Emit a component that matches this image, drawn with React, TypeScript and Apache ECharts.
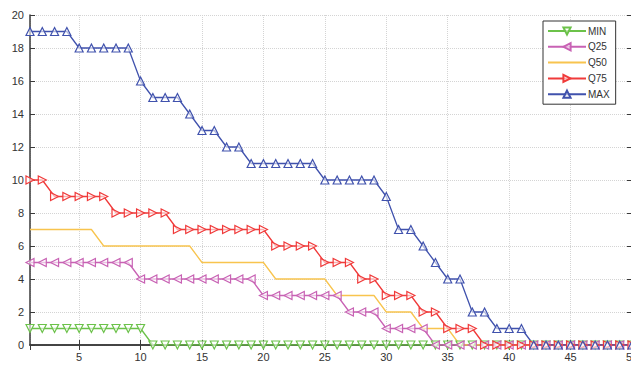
import React, { useEffect, useRef } from "react";
import * as echarts from "echarts";

const xValues = Array.from({ length: 50 }, (_, i) => i + 1);
const minSeries = [1,1,1,1,1,1,1,1,1,1, 0,0,0,0,0,0,0,0,0,0, 0,0,0,0,0,0,0,0,0,0, 0,0,0,0,0,0,0,0,0,0, 0,0,0,0,0,0,0,0,0,0];
const q25Series = [5,5,5,5,5,5,5,5,5,4, 4,4,4,4,4,4,4,4,4,3, 3,3,3,3,3,3,2,2,2,1, 1,1,1,0,0,0,0,0,0,0, 0,0,0,0,0,0,0,0,0,0];
const q50Series = [7,7,7,7,7,7,6,6,6,6, 6,6,6,6,5,5,5,5,5,5, 4,4,4,4,4,3,3,3,3,2, 2,2,1,1,1,0,0,0,0,0, 0,0,0,0,0,0,0,0,0,0];
const q75Series = [10,10,9,9,9,9,9,8,8,8, 8,8,7,7,7,7,7,7,7,7, 6,6,6,6,5,5,5,4,4,3, 3,3,2,2,1,1,1,0,0,0, 0,0,0,0,0,0,0,0,0,0];
const maxSeries = [19,19,19,19,18,18,18,18,18,16, 15,15,15,14,13,13,12,12,11,11, 11,11,11,11,10,10,10,10,10,9, 7,7,6,5,4,4,2,2,1,1, 1,0,0,0,0,0,0,0,0,0];

const seriesNames = ["MIN", "Q25", "Q50", "Q75", "MAX"];
const seriesColors = ["#6cc24a", "#c862b4", "#f8c44e", "#f03a3a", "#4052ad"];
const seriesRotate = [180, 90, 0, -90, 0];
const seriesSymbols = ["triangle", "triangle", "none", "triangle", "triangle"];
const seriesData = [minSeries, q25Series, q50Series, q75Series, maxSeries];

export default function App() {
  const ref = useRef<HTMLDivElement>(null);
  useEffect(() => {
    document.body.style.margin = "0";
    const chart = echarts.init(ref.current!, null, { renderer: "svg" });
    const axisColor = "#3a3a3a";
    const font = "Liberation Sans, Arial, sans-serif";
    const gridLine = { show: true, lineStyle: { color: "#d4d4d4", type: "dotted" as const, width: 1 } };
    chart.setOption({
      animation: false,
      backgroundColor: "#ffffff",
      grid: { left: 30, right: -1, top: 15, bottom: 20, outerBoundsMode: "none", containLabel: false },
      legend: {
        orient: "vertical",
        left: 543,
        top: 21,
        padding: [5, 6, 5, 4],
        itemWidth: 38,
        itemHeight: 9,
        itemGap: 5.8,
        backgroundColor: "#ffffff",
        borderColor: "#333333",
        borderWidth: 1,
        borderRadius: 0,
        textStyle: { fontSize: 10, color: "#333", fontFamily: font, padding: [0, 0, 0, -3] },
        data: seriesNames.map((name) =>
          name === "Q50" ? { name, itemStyle: { opacity: 0 } } : { name }
        ),
      },
      xAxis: [
        {
          type: "value",
          min: 1,
          max: 50,
          splitNumber: 10,
          minInterval: 5,
          maxInterval: 5,
          axisLine: { lineStyle: { color: axisColor, width: 1.5 } },
          axisTick: { inside: true, length: 5, lineStyle: { color: axisColor } },
          axisLabel: { showMinLabel: false, color: "#333", fontSize: 11, margin: 6, fontFamily: font },
          splitLine: gridLine,
        },
        {
          type: "value",
          position: "top",
          min: 1,
          max: 50,
          splitNumber: 10,
          minInterval: 5,
          maxInterval: 5,
          axisLine: { show: true, lineStyle: { color: axisColor, width: 1.5 } },
          axisTick: { show: true, inside: true, length: 5, lineStyle: { color: axisColor } },
          axisLabel: { show: false },
          splitLine: { show: false },
        },
      ],
      yAxis: [
        {
          type: "value",
          min: 0,
          max: 20,
          interval: 2,
          axisLine: { show: true, lineStyle: { color: axisColor, width: 1.5 } },
          axisTick: { show: true, inside: true, length: 5, lineStyle: { color: axisColor } },
          axisLabel: { color: "#333", fontSize: 11, margin: 6, fontFamily: font },
          splitLine: gridLine,
        },
        {
          type: "value",
          position: "right",
          min: 0,
          max: 20,
          interval: 2,
          axisLine: { show: true, lineStyle: { color: axisColor, width: 1.5 } },
          axisTick: { show: true, inside: true, length: 5, lineStyle: { color: axisColor } },
          axisLabel: { show: false },
          splitLine: { show: false },
        },
      ],
      series: seriesNames.map((name, i) => ({
        name,
        type: "line",
        xAxisIndex: 0,
        yAxisIndex: 0,
        data: xValues.map((x, j) => [x, seriesData[i][j]]),
        symbol: seriesSymbols[i],
        symbolSize: 8,
        symbolRotate: seriesRotate[i],
        showSymbol: seriesSymbols[i] !== "none",
        lineStyle: { color: seriesColors[i], width: 1.3 },
        itemStyle: { color: "rgba(255,255,255,0.6)", borderColor: seriesColors[i], borderWidth: 1.2 },
        emphasis: { disabled: true },
      })),
    });
    return () => chart.dispose();
  }, []);
  return <div ref={ref} style={{ width: 631, height: 365 }} />;
}
